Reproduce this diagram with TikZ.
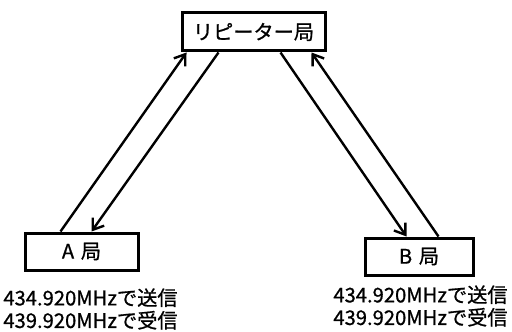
\documentclass[tikz,border=0pt]{standalone}
\usepackage{fontspec}
\setmainfont{Noto Sans CJK JP}[FakeBold=0.8]
\usetikzlibrary{arrows.meta, positioning, calc}

\begin{document}
\begin{tikzpicture}[
        x=0.5pt, y=-0.5pt,
        font=\fontsize{10.1pt}{11.3pt}\selectfont,
        >={Straight Barb[length=5pt, width=7pt]},
        station/.style={draw, line width=1.5pt, inner sep=0pt},
        link/.style={->, line width=1.2pt},
        freq/.style={anchor=north west, align=left, inner sep=0pt}
    ]

        % Page frame
        \useasboundingbox (0,0) rectangle (512,331);

        % Stations
        \node[station, minimum width=71.5pt, minimum height=19pt] (rep) at (253.5,32) {リピーター局};
        \node[station, minimum width=56.5pt, minimum height=18.5pt] (sa) at (81.5,251.5) {A\,\,局};
        \node[station, minimum width=54pt, minimum height=18.5pt] (sb) at (419,256.5) {B\,\,局};

        % Links A <-> repeater
        \draw[link] ([xshift=18.5pt]sa.north west) -- ([xshift=3pt]rep.south west);
        \draw[link] ([xshift=19pt]rep.south west) -- ([xshift=34pt]sa.north west);

        % Links repeater <-> B
        \draw[link] ([xshift=50pt]rep.south west) -- ([xshift=21.5pt]sb.north west);
        \draw[link] ([xshift=37.5pt]sb.north west) -- ([xshift=65.5pt]rep.south west);

        % Frequencies
        \node[freq] (fa) at (3,288) {434.920MHzで送信\\439.920MHzで受信};
        \node[freq] (fb) at (333,285) {434.920MHzで送信\\439.920MHzで受信};

    \end{tikzpicture}
\end{document}
